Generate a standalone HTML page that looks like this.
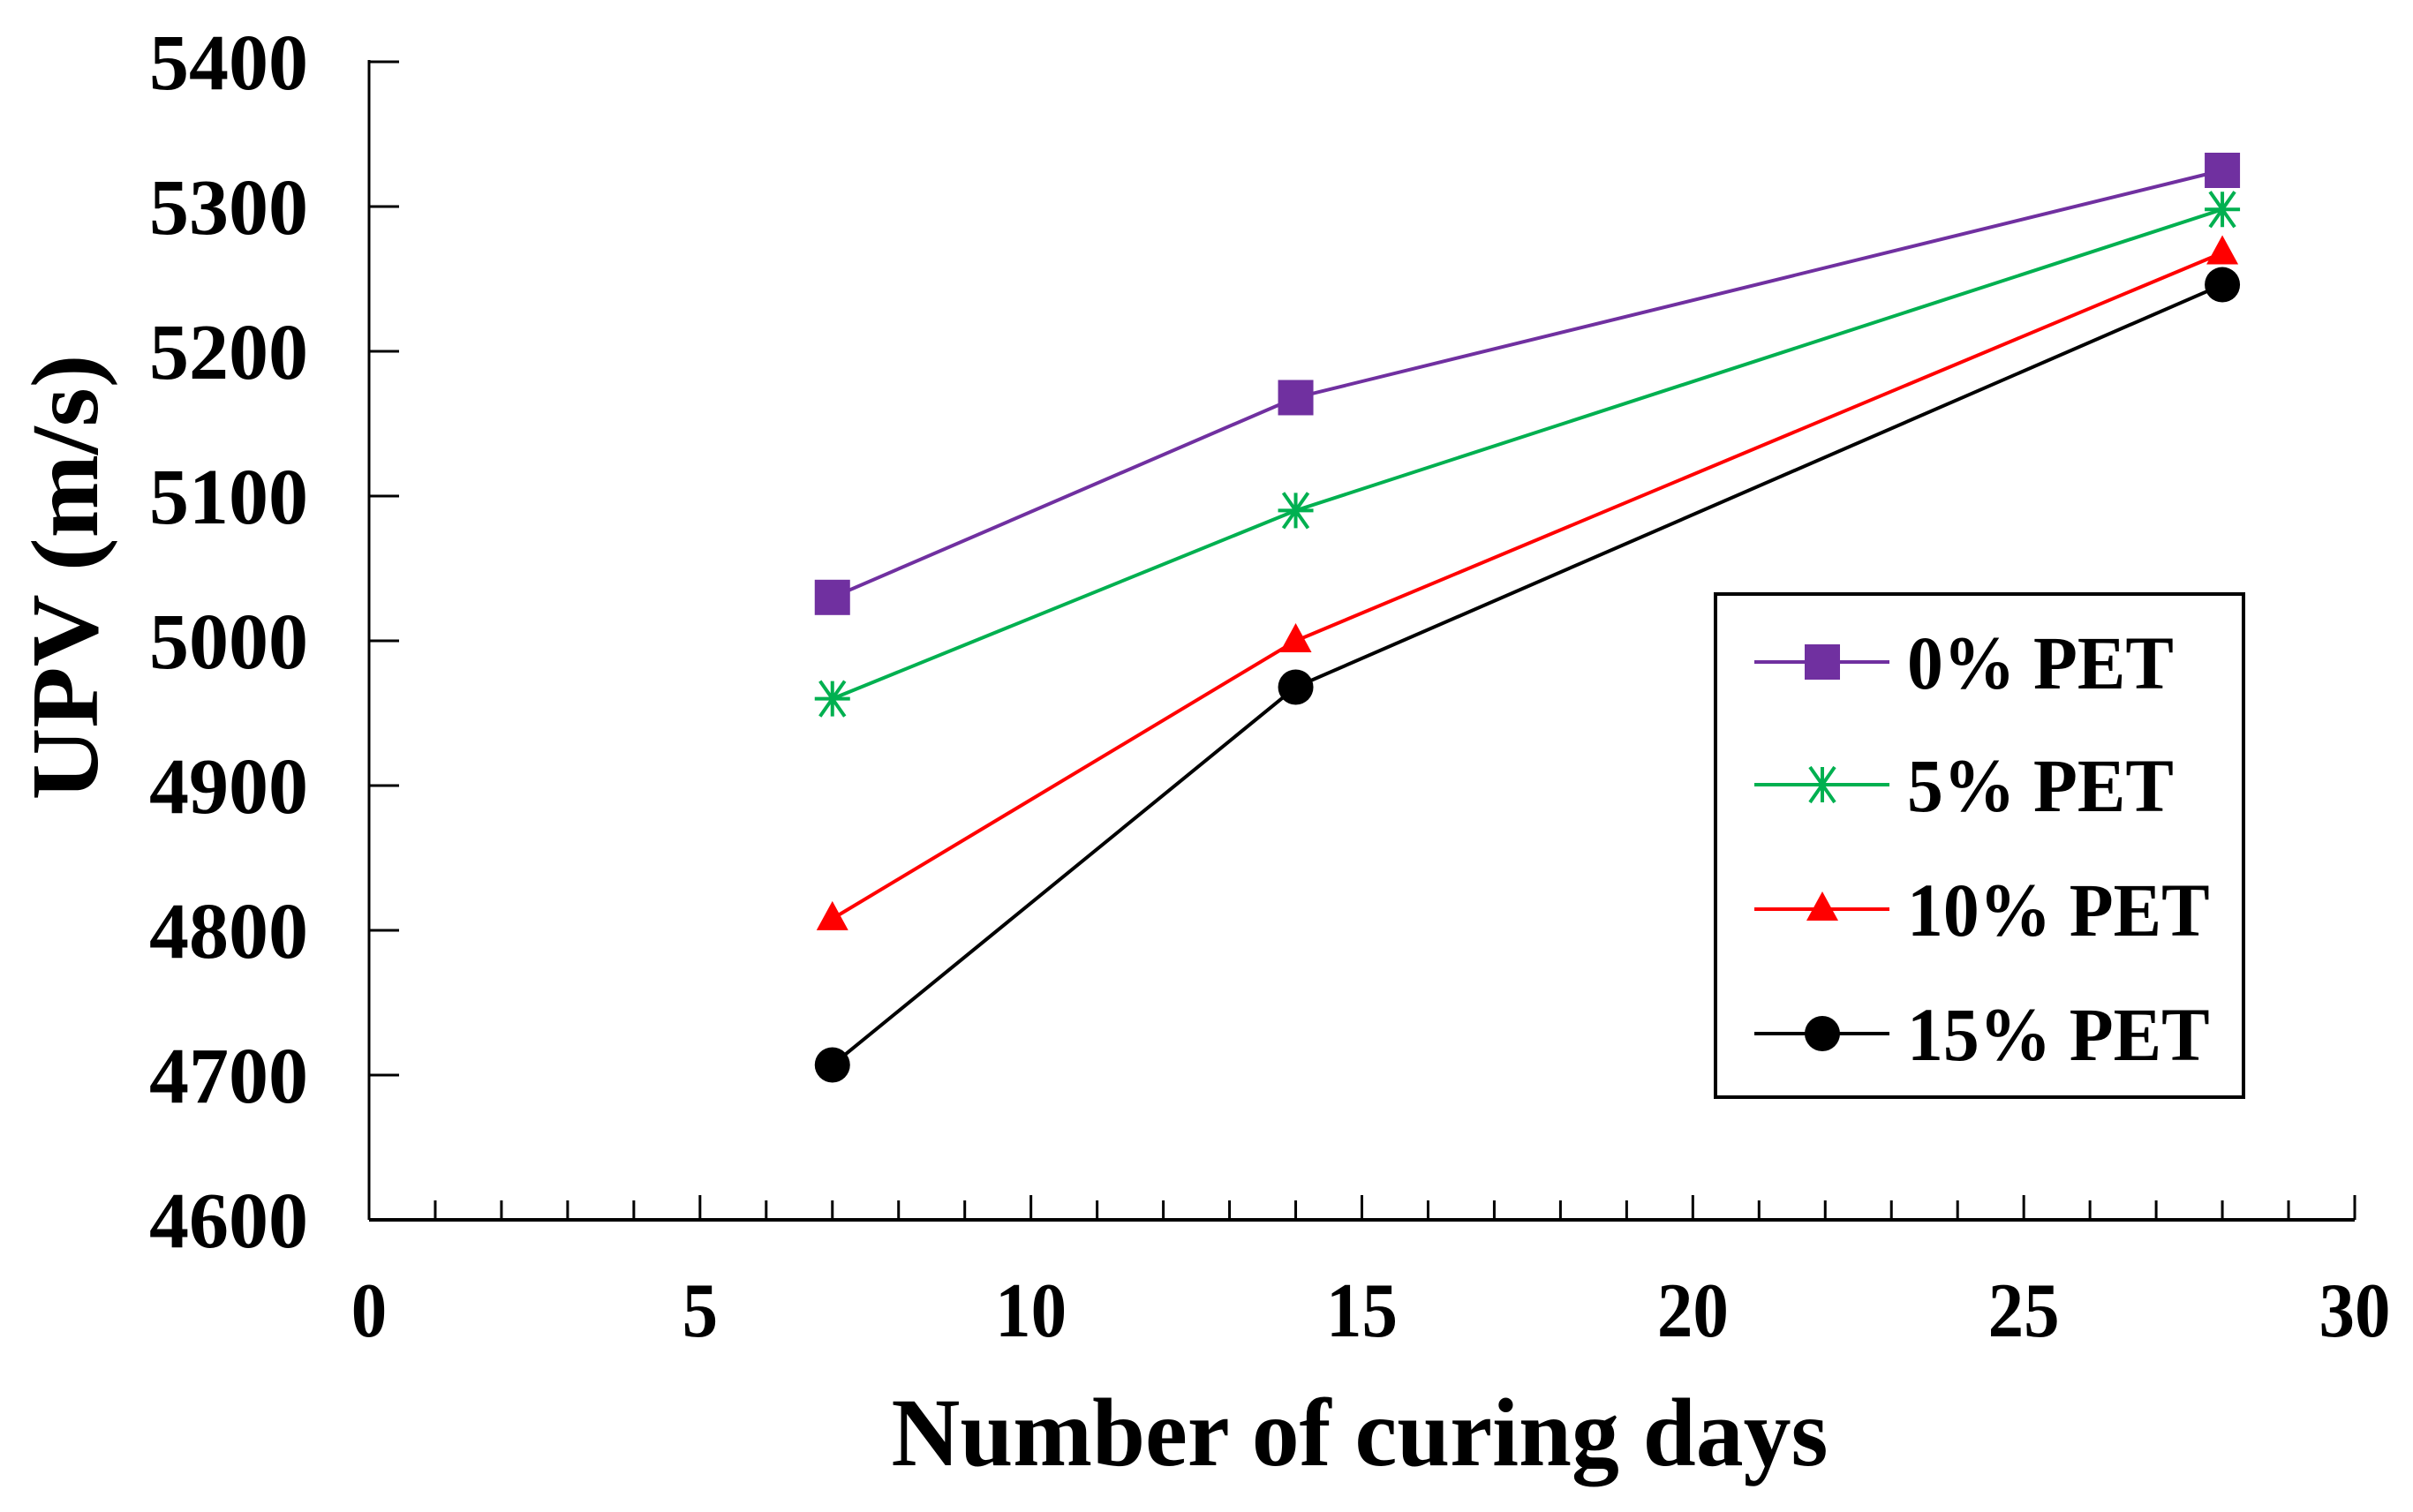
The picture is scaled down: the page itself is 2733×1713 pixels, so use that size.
<!DOCTYPE html>
<html><head><meta charset="utf-8"><style>
html,body{margin:0;padding:0;background:#fff;}
svg{display:block;}
text{font-family:"Liberation Serif",serif;font-weight:bold;fill:#000;}
</style></head><body>
<svg id="chart" width="2733" height="1713" viewBox="0 0 2733 1713" xmlns="http://www.w3.org/2000/svg">
<g id="axes"></g>
<g id="series"></g>
<g id="legend"></g>
</svg>
<script>
const days = [7, 14, 28];
const pet0 = [5030, 5168, 5325];
const pet5 = [4960, 5090, 5298];
const pet10 = [4808, 5000, 5268];
const pet15 = [4707, 4968, 5246];
const seriesNames = ["0% PET", "5% PET", "10% PET", "15% PET"];
const yTicks = [4600, 4700, 4800, 4900, 5000, 5100, 5200, 5300, 5400];
const xTicks = [0, 5, 10, 15, 20, 25, 30];

const NS = "http://www.w3.org/2000/svg";
const X0 = 418, X1 = 2667, Y0 = 1382, Y1 = 70;
const xs = v => X0 + (v - 0) / 30 * (X1 - X0);
const ys = v => Y0 - (v - 4600) / 800 * (Y0 - Y1);
function mk(tag, attrs, parent) {
  const e = document.createElementNS(NS, tag);
  for (const k in attrs) e.setAttribute(k, attrs[k]);
  parent.appendChild(e);
  return e;
}
const axes = document.getElementById('axes');
const yAxis = mk('line', {x1: X0, y1: Y1 - 2, x2: X0, y2: Y0, stroke: '#000', 'stroke-width': 3}, axes);


const xAxis = mk('line', {x1: X0, y1: Y0, x2: X1, y2: Y0, stroke: '#000', 'stroke-width': 4}, axes);


yTicks.forEach(v => {
  const t = mk('line', {x1: X0, y1: ys(v), x2: X0 + 34, y2: ys(v), stroke: '#000', 'stroke-width': 3}, axes);
  
  
  const l = mk('text', {x: 349, y: ys(v) + 31, 'font-size': 90, 'text-anchor': 'end', transform: `translate(349 0) scale(1.0 1) translate(-349 0)`}, axes);
  l.textContent = v;
  
  
});
for (let d = 1; d <= 30; d++) {
  const major = d % 5 === 0;
  const t = mk('line', {x1: xs(d), y1: Y0, x2: xs(d), y2: Y0 - (major ? 28 : 22), stroke: '#000', 'stroke-width': 3}, axes);
  
  
}
xTicks.forEach(v => {
  const l = mk('text', {x: xs(v), y: 1514, 'font-size': 88, 'text-anchor': 'middle', transform: `translate(${xs(v)} 0) scale(0.92 1) translate(${-xs(v)} 0)`}, axes);
  l.textContent = v;
  
  
});
const xt = mk('text', {x: 1540, y: 1660, 'font-size': 110, 'text-anchor': 'middle', transform: 'translate(1540 0) scale(0.98 1) translate(-1540 0)'}, axes);
xt.textContent = 'Number of curing days';


const yt = mk('text', {x: 0, y: 0, 'font-size': 108, 'text-anchor': 'middle', transform: 'translate(110 654) rotate(-90) scale(1.05 1)'}, axes);
yt.textContent = 'UPV (m/s)';



function marker(type, color, cx, cy, parent) {
  let m;
  if (type === 'square') m = mk('rect', {x: cx - 20, y: cy - 20, width: 40, height: 40, fill: color}, parent);
  else if (type === 'circle') m = mk('circle', {cx: cx, cy: cy, r: 20, fill: color}, parent);
  else if (type === 'triangle') m = mk('polygon', {points: `${cx},${cy - 20} ${cx + 18},${cy + 13} ${cx - 18},${cy + 13}`, fill: color}, parent);
  else {
    m = mk('path', {d: `M${cx - 14},${cy - 20}L${cx + 14},${cy + 20}M${cx + 14},${cy - 20}L${cx - 14},${cy + 20}M${cx},${cy - 20}L${cx},${cy + 20}M${cx - 20},${cy}L${cx + 20},${cy}`, stroke: color, 'stroke-width': 4, fill: 'none'}, parent);
  }
  return m;
}
const seriesData = [pet0, pet5, pet10, pet15];
const colors = ['#7030a0', '#00b050', '#ff0000', '#000000'];
const markers = ['square', 'star', 'triangle', 'circle'];
const sg = document.getElementById('series');
seriesData.forEach((vals, i) => {
  const g = mk('g', {}, sg);
  
  
  const pts = vals.map((v, j) => xs(days[j]) + ',' + ys(v)).join(' ');
  const pl = mk('polyline', {points: pts, fill: 'none', stroke: colors[i], 'stroke-width': 4}, g);
  
  
  vals.forEach((v, j) => {
    const m = marker(markers[i], colors[i], xs(days[j]), ys(v), g);
    
    
  });
});
const lg = document.getElementById('legend');
const box = mk('rect', {x: 1943, y: 673, width: 598, height: 570, fill: '#fff', stroke: '#000', 'stroke-width': 4}, lg);


const rowsY = [750, 889, 1030, 1171];
seriesNames.forEach((n, i) => {
  const g = mk('g', {}, lg);
  
  
  const y = rowsY[i];
  const ln = mk('line', {x1: 1987, y1: y, x2: 2140, y2: y, stroke: colors[i], 'stroke-width': 4}, g);
  
  
  const m = marker(markers[i], colors[i], 2064, y, g);
  
  
  const t = mk('text', {x: 2160, y: y + 30, 'font-size': 86, transform: 'translate(2160 0) scale(0.95 1) translate(-2160 0)'}, g);
  t.textContent = n;
  
  
});
</script>
</body></html>
